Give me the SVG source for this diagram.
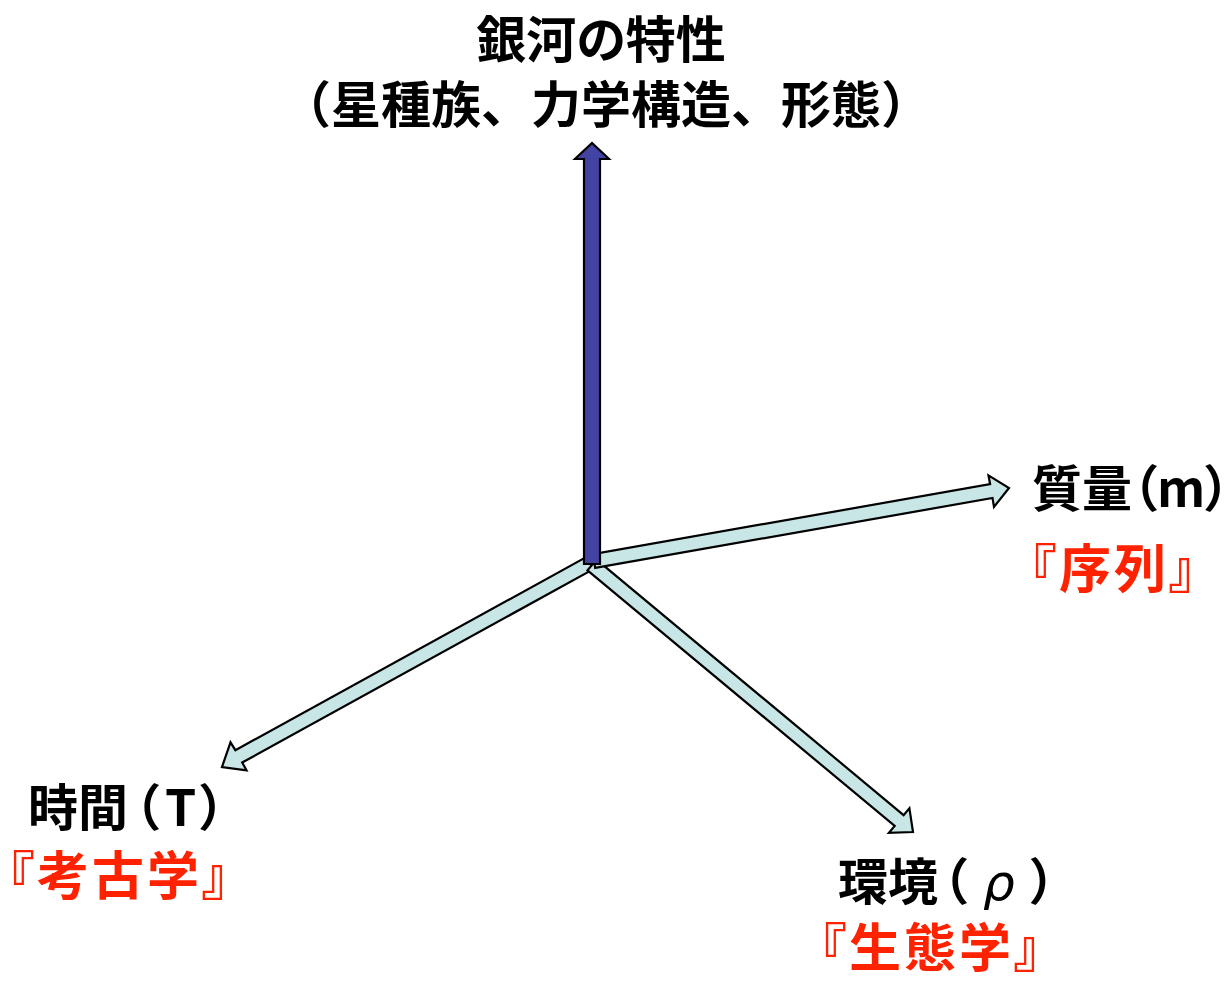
<svg xmlns="http://www.w3.org/2000/svg" width="1229" height="983" viewBox="0 0 1229 983">
<style>
.t{font-family:"Noto Sans CJK JP","Noto Sans CJK SC",sans-serif;font-weight:bold;font-size:50px;fill:#000;font-feature-settings:"palt"}
.n{font-feature-settings:normal}
.r{fill:#FF2200;font-size:52px;letter-spacing:3px}
.c{text-anchor:middle}
.g{font-family:"DejaVu Sans",sans-serif;font-style:italic;font-weight:normal}
.ax{fill:#C8E6E6;stroke:#000;stroke-width:2.2;stroke-linejoin:miter}
.ay{fill:#4343A3;stroke:#000;stroke-width:2.2;stroke-linejoin:miter}
</style>
<rect width="1229" height="983" fill="#fff"/>
<g id="connectors">
<polygon class="ax" points="586.6,556.9 235.4,750.2 230.5,742.3 222,767 246.5,770.3 242.2,762.5 593.4,569.1"/>
<polygon class="ax" points="587.5,570.4 894.7,825.9 888.9,832.8 913,832 909.4,808.2 903.6,815.1 596.5,559.6"/>
<polygon class="ax" points="595.2,567.9 992.5,498 994,506.9 1009,488 988.5,475.4 990.1,484.2 592.8,554.1"/>
<polygon class="ay" points="584,564 584,159 575,159 592,143 609,159 600,159 600,564"/>
</g>
<g id="title">
<text class="t c" x="601" y="58" font-size="53">銀河の特性</text>
<text class="t n c" x="606" y="123">（星種族、力学構造、形態）</text>
</g>
<g id="mass">
<text class="t" x="1032" y="507">質量（m）</text>
<text class="t r" x="1030" y="588">『序列』</text>
</g>
<g id="time">
<text class="t" x="28" y="826">時間<tspan dx="6">（</tspan><tspan dx="6">T</tspan><tspan dx="4">）</tspan></text>
<text class="t r" x="8" y="895">『考古学』</text>
</g>
<g id="environment">
<text class="t" x="838" y="900">環境<tspan dx="4">（</tspan><tspan class="g" dx="16">ρ</tspan><tspan dx="16">）</tspan></text>
<text class="t r" x="820" y="967">『生態学』</text>
</g>
</svg>
